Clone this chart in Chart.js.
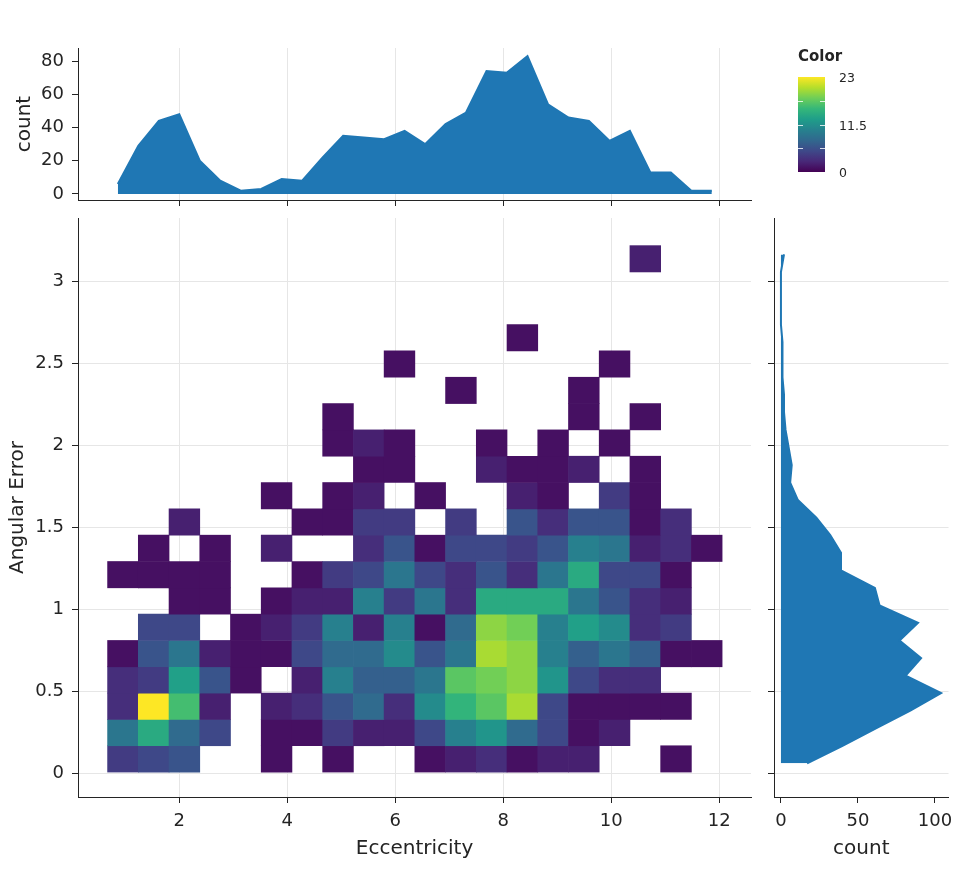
<!DOCTYPE html>
<html>
<head>
<meta charset="utf-8">
<script src="https://cdn.jsdelivr.net/npm/chart.js@4.4.1/dist/chart.umd.min.js"></script>
<style>
  html, body { margin: 0; padding: 0; background: #fff; }
  #wrap { position: relative; width: 961px; height: 878px; overflow: hidden;
          font-family: 'DejaVu Sans', sans-serif; color: #242424; }
  #wrap canvas { position: absolute; left: 0; top: 0; }
  .cb { position: absolute; }
  #cbTitle { left: 798px; top: 47px; font-size: 15px; font-weight: bold; }
  #cbBar { left: 798px; top: 77px; width: 27px; height: 95px; }
  .cbLabel { left: 839px; font-size: 12.5px; line-height: 14px; }
  .cbMark { width: 5px; height: 1px; background: rgba(255,255,255,0.8); }
</style>
</head>
<body>
<div id="wrap">
  <canvas id="heatCanvas" width="961" height="878"></canvas>
  <canvas id="topCanvas" width="961" height="878"></canvas>
  <canvas id="rightCanvas" width="961" height="878"></canvas>
  <div id="cbTitle" class="cb">Color</div>
  <div id="cbBar" class="cb"></div>
</div>
<script>
// bins of the 2D histogram (20 x 20)
const eccStart = 0.672, eccBinWidth = 0.569;
const errStart = 0.0075, errBinWidth = 0.1605;

// counts per cell, bottom row first, left column first
const heatCounts = [
    [4, 5, 6, 0, 0, 1, 0, 1, 0, 0, 1, 2, 3, 1, 2, 2, 0, 0, 1, 0],
    [9, 14, 8, 5, 0, 1, 1, 4, 2, 2, 5, 10, 12, 8, 5, 1, 2, 0, 0, 0],
    [3, 23, 16, 2, 0, 2, 3, 6, 8, 3, 11, 15, 17, 20, 5, 1, 1, 1, 1, 0],
    [3, 4, 13, 6, 1, 0, 2, 10, 7, 7, 9, 17, 18, 19, 12, 5, 3, 3, 0, 0],
    [1, 6, 9, 2, 1, 1, 5, 8, 8, 11, 6, 9, 20, 19, 10, 7, 9, 7, 1, 1],
    [0, 5, 5, 0, 1, 2, 4, 10, 2, 10, 1, 8, 19, 18, 10, 13, 11, 3, 4, 0],
    [0, 0, 1, 1, 0, 1, 2, 2, 10, 4, 9, 3, 14, 14, 14, 9, 6, 3, 2, 0],
    [1, 1, 1, 1, 0, 0, 1, 4, 5, 9, 5, 3, 6, 3, 9, 14, 5, 5, 1, 0],
    [0, 1, 0, 1, 0, 2, 0, 0, 3, 6, 1, 5, 5, 4, 6, 10, 9, 2, 3, 1],
    [0, 0, 2, 0, 0, 0, 1, 1, 4, 4, 0, 4, 0, 6, 3, 6, 6, 1, 3, 0],
    [0, 0, 0, 0, 0, 1, 0, 1, 2, 0, 1, 0, 0, 2, 1, 0, 4, 1, 0, 0],
    [0, 0, 0, 0, 0, 0, 0, 0, 1, 1, 0, 0, 2, 1, 1, 2, 0, 1, 0, 0],
    [0, 0, 0, 0, 0, 0, 0, 1, 2, 1, 0, 0, 1, 0, 1, 0, 1, 0, 0, 0],
    [0, 0, 0, 0, 0, 0, 0, 1, 0, 0, 0, 0, 0, 0, 0, 1, 0, 1, 0, 0],
    [0, 0, 0, 0, 0, 0, 0, 0, 0, 0, 0, 1, 0, 0, 0, 1, 0, 0, 0, 0],
    [0, 0, 0, 0, 0, 0, 0, 0, 0, 1, 0, 0, 0, 0, 0, 0, 1, 0, 0, 0],
    [0, 0, 0, 0, 0, 0, 0, 0, 0, 0, 0, 0, 0, 1, 0, 0, 0, 0, 0, 0],
    [0, 0, 0, 0, 0, 0, 0, 0, 0, 0, 0, 0, 0, 0, 0, 0, 0, 0, 0, 0],
    [0, 0, 0, 0, 0, 0, 0, 0, 0, 0, 0, 0, 0, 0, 0, 0, 0, 0, 0, 0],
    [0, 0, 0, 0, 0, 0, 0, 0, 0, 0, 0, 0, 0, 0, 0, 0, 0, 2, 0, 0]
];

// marginal histograms (30 bins each)
const eccMargWidth = 0.3793, errMargWidth = 0.107;
const topCounts = [6, 29, 44, 48, 20, 8, 2, 3, 9, 8, 22, 35, 34, 33, 38,
                   30, 42, 49, 74, 73, 83, 54, 46, 44, 32, 38, 13, 13, 2, 2];
const rightCounts = [17, 40, 62, 84, 104, 81, 91, 77, 89, 64, 61, 39, 39, 32, 23,
                     11, 6, 7, 5, 3, 2, 2, 1, 1, 1, 0, 0, 0, 0, 2];

// ticks
const eccTicks = [2, 4, 6, 8, 10, 12];
const errTicks = [0, 0.5, 1, 1.5, 2, 2.5, 3];
const topCountTicks = [0, 20, 40, 60, 80];
const rightCountTicks = [0, 50, 100];
const colorTicks = [0, 11.5, 23];
const colorMarks = [5.75, 11.5, 17.25];
const colorMax = 23;

const viridisStops = ['#440154', '#482878', '#3e4989', '#31688e', '#26828e',
                      '#1f9e89', '#35b779', '#6ece58', '#b5de2b', '#fde725'];

const axisInk = '#242424';
const gridInk = '#e6e6e6';
const barBlue = '#1f77b4';

function hexToRgb(h) {
    return [parseInt(h.slice(1, 3), 16), parseInt(h.slice(3, 5), 16), parseInt(h.slice(5, 7), 16)];
}
const viridisRgb = viridisStops.map(hexToRgb);

function viridis(t) {
    t = Math.min(1, Math.max(0, t));
    const pos = t * (viridisRgb.length - 1);
    const i = Math.min(Math.floor(pos), viridisRgb.length - 2);
    const f = pos - i;
    const a = viridisRgb[i], b = viridisRgb[i + 1];
    return 'rgb(' + a.map((v, j) => Math.round(v + (b[j] - v) * f)).join(',') + ')';
}

function fixedTicks(values) {
    return function(axis) { axis.ticks = values.map(v => ({ value: v })); };
}
function fixedSize(size) {
    return function(axis) {
        if (axis.isHorizontal()) axis.height = size; else axis.width = size;
    };
}

Chart.defaults.font.family = "'DejaVu Sans', sans-serif";
Chart.defaults.color = axisInk;
Chart.defaults.animation = false;

const noPlugins = { legend: { display: false }, tooltip: { enabled: false } };

// heatmap cells as floating bars
const cells = [];
const cellColors = [];
heatCounts.forEach((row, r) => {
    row.forEach((c, k) => {
        if (!c) return;
        const x0 = eccStart + k * eccBinWidth;
        const y0 = errStart + r * errBinWidth;
        cells.push({ x: x0 + eccBinWidth / 2, y: [y0, y0 + errBinWidth] });
        cellColors.push(viridis(c / colorMax));
    });
});

const eccRange = { min: 0.124, max: 12.587 };
const errRange = { min: -0.1445, max: 3.386 };

new Chart(document.getElementById('heatCanvas'), {
    type: 'bar',
    data: {
        datasets: [{
            data: cells,
            backgroundColor: cellColors,
            borderWidth: 0,
            barPercentage: 1,
            categoryPercentage: 1
        }]
    },
    options: {
        responsive: false,
        layout: { padding: { left: 0, top: 218, right: 210, bottom: 0 } },
        plugins: noPlugins,
        scales: {
            x: {
                type: 'linear', min: eccRange.min, max: eccRange.max, offset: false,
                afterBuildTicks: fixedTicks(eccTicks), afterFit: fixedSize(81),
                grid: { offset: false, color: gridInk, tickColor: axisInk, tickLength: 6, tickWidth: 1 },
                border: { color: axisInk, width: 1 },
                ticks: { font: { size: 18 }, padding: 8, maxRotation: 0, autoSkip: false,
                         callback: v => String(v) },
                title: { display: true, text: 'Eccentricity', font: { size: 20 },
                         padding: { top: 0, bottom: 17 } }
            },
            y: {
                type: 'linear', min: errRange.min, max: errRange.max,
                afterBuildTicks: fixedTicks(errTicks), afterFit: fixedSize(78),
                grid: { color: gridInk, tickColor: axisInk, tickLength: 6, tickWidth: 1 },
                border: { color: axisInk, width: 1 },
                ticks: { font: { size: 18 }, padding: 8, callback: v => String(v) },
                title: { display: true, text: 'Angular Error', font: { size: 20 },
                         padding: { top: 6, bottom: 0 } }
            }
        }
    }
});

// top marginal: counts along eccentricity
const topPoints = topCounts.map((c, i) => ({ x: eccStart + (i + 0.5) * eccMargWidth, y: c }));

new Chart(document.getElementById('topCanvas'), {
    type: 'line',
    data: {
        datasets: [{
            data: topPoints,
            borderColor: barBlue,
            backgroundColor: barBlue,
            borderWidth: 2,
            fill: 'origin',
            pointRadius: 0,
            tension: 0
        }]
    },
    options: {
        responsive: false,
        layout: { padding: { left: 0, top: 48, right: 210, bottom: 672 } },
        plugins: noPlugins,
        scales: {
            x: {
                type: 'linear', min: eccRange.min, max: eccRange.max,
                afterBuildTicks: fixedTicks(eccTicks), afterFit: fixedSize(6),
                grid: { color: gridInk, tickColor: axisInk, tickLength: 6, tickWidth: 1 },
                border: { color: axisInk, width: 1 },
                ticks: { display: false }
            },
            y: {
                type: 'linear', min: -3.61, max: 87.82,
                afterBuildTicks: fixedTicks(topCountTicks), afterFit: fixedSize(78),
                grid: { drawOnChartArea: false, tickColor: axisInk, tickLength: 6, tickWidth: 1 },
                border: { color: axisInk, width: 1 },
                ticks: { font: { size: 18 }, padding: 8, callback: v => String(v) },
                title: { display: true, text: 'count', font: { size: 20 },
                         padding: { top: 13, bottom: 0 } }
            }
        }
    }
});

// right marginal: counts along angular error
const rightPoints = rightCounts.map((c, i) => ({ x: c, y: errStart + (i + 0.5) * errMargWidth }));

new Chart(document.getElementById('rightCanvas'), {
    type: 'line',
    data: {
        datasets: [{
            data: rightPoints,
            borderColor: barBlue,
            backgroundColor: barBlue,
            borderWidth: 2,
            fill: 'origin',
            pointRadius: 0,
            tension: 0
        }]
    },
    options: {
        responsive: false,
        indexAxis: 'y',
        layout: { padding: { left: 766, top: 218, right: 11, bottom: 0 } },
        plugins: noPlugins,
        scales: {
            x: {
                type: 'linear', min: -4.51, max: 108.8,
                afterBuildTicks: fixedTicks(rightCountTicks), afterFit: fixedSize(81),
                grid: { drawOnChartArea: false, tickColor: axisInk, tickLength: 6, tickWidth: 1 },
                border: { color: axisInk, width: 1 },
                ticks: { font: { size: 18 }, padding: 8, maxRotation: 0, callback: v => String(v) },
                title: { display: true, text: 'count', font: { size: 20 },
                         padding: { top: 0, bottom: 17 } }
            },
            y: {
                type: 'linear', min: errRange.min, max: errRange.max,
                afterBuildTicks: fixedTicks(errTicks), afterFit: fixedSize(8),
                grid: { color: gridInk, tickColor: axisInk, tickLength: 6, tickWidth: 1 },
                border: { color: axisInk, width: 1 },
                ticks: { display: false }
            }
        }
    }
});

// colour bar
const cbBar = document.getElementById('cbBar');
cbBar.style.background = 'linear-gradient(to top, ' + viridisStops.join(', ') + ')';
const wrap = document.getElementById('wrap');
const cbTop = 77, cbHeight = 95, cbLeft = 798, cbWidth = 27;

colorTicks.forEach(v => {
    const el = document.createElement('div');
    el.className = 'cb cbLabel';
    el.textContent = String(v);
    el.style.top = (cbTop + cbHeight * (1 - v / colorMax) - 6) + 'px';
    wrap.appendChild(el);
});
colorMarks.forEach(v => {
    const y = Math.round(cbTop + cbHeight * (1 - v / colorMax));
    [cbLeft, cbLeft + cbWidth - 5].forEach(x => {
        const m = document.createElement('div');
        m.className = 'cb cbMark';
        m.style.left = x + 'px';
        m.style.top = y + 'px';
        wrap.appendChild(m);
    });
});
</script>
</body>
</html>
